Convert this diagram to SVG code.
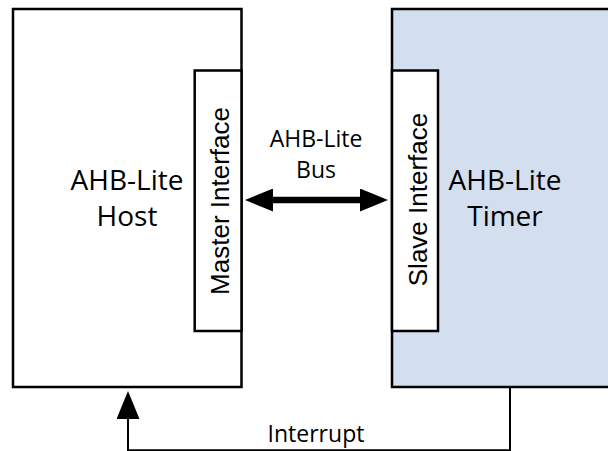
<svg xmlns="http://www.w3.org/2000/svg" width="608" height="451" viewBox="0 0 608 451">
<style>
.box{stroke:#000;stroke-width:2.5}
.t{font-family:"Open Sans","Liberation Sans",sans-serif;fill:#000;text-anchor:middle}
.big{font-size:28px}
.small{font-size:23px}
.v{font-family:"Liberation Sans",Arial,sans-serif;font-size:26px;fill:#000;text-anchor:middle}
.wire{fill:none;stroke:#000;stroke-width:2}
</style>
<defs>
<marker id="head" viewBox="0 0 28 23" refX="1" refY="11.5" markerWidth="28" markerHeight="23" markerUnits="userSpaceOnUse" orient="auto-start-reverse">
<path d="M0,0 L28,11.5 L0,23 Z" fill="#000"/>
</marker>
</defs>
<rect width="608" height="451" fill="#fff"/>
<g id="host">
<rect class="box" x="13" y="9" width="228.5" height="378" fill="#fff"/>
<text class="t big" x="127" y="190">AHB-Lite</text>
<text class="t big" x="127" y="226">Host</text>
</g>
<g id="master-interface">
<rect class="box" x="194.7" y="70.5" width="46.8" height="260.5" fill="#fff"/>
<text class="v" transform="translate(228.5,201) rotate(-90)">Master Interface</text>
</g>
<g id="timer">
<rect class="box" x="392" y="9" width="228" height="378" fill="#D3DEEE"/>
<text class="t big" x="505" y="190">AHB-Lite</text>
<text class="t big" x="505" y="226">Timer</text>
</g>
<g id="slave-interface">
<rect class="box" x="392" y="70.5" width="46" height="260.5" fill="#fff"/>
<text class="v" transform="translate(426.5,199.5) rotate(-90)">Slave Interface</text>
</g>
<g id="connectors">
<path d="M272,200 L361,200" stroke="#000" stroke-width="6.5" fill="none" marker-start="url(#head)" marker-end="url(#head)"/>
<text class="t small" x="316" y="146.5">AHB-Lite</text>
<text class="t small" x="316" y="178">Bus</text>
<path class="wire" d="M510,387 L510,450.3 L128,450.3 L128,418" marker-end="url(#head)"/>
<text class="t small" x="316" y="442">Interrupt</text>
</g>
</svg>
